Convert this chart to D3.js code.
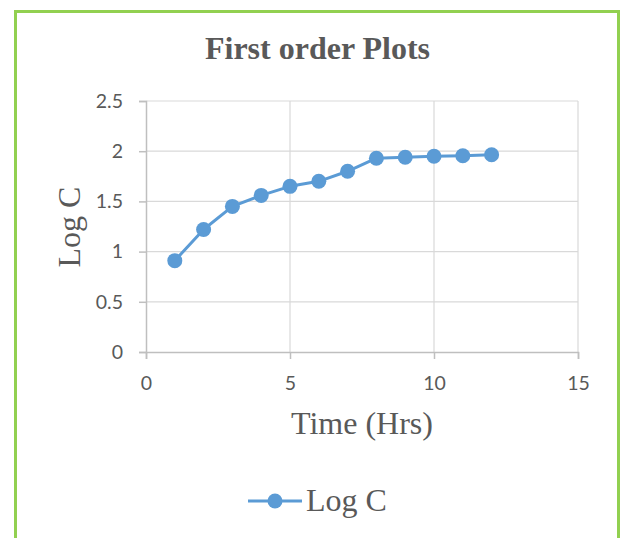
<!DOCTYPE html>
<html><head><meta charset="utf-8">
<script src="https://cdn.jsdelivr.net/npm/d3@7"></script>
<style>html,body{margin:0;padding:0;background:#fff;}</style>
</head><body>
<svg id="c" width="624" height="538"></svg>
<script>
const timeHrs = [1,2,3,4,5,6,7,8,9,10,11,12];
const logC = [0.91,1.22,1.45,1.56,1.65,1.70,1.80,1.93,1.94,1.95,1.955,1.965];
const xTicks = [0,5,10,15];
const yTicks = [0,0.5,1,1.5,2,2.5];
const title = "First order Plots";
const xTitle = "Time (Hrs)";
const yTitle = "Log C";
const seriesName = "Log C";

const svg = d3.select("#c");
const blue = "#5b9bd5";
const txt = "#595959";
const serif = "'Liberation Serif', 'Times New Roman', serif";

// frame
svg.append("rect").attr("x",15.5).attr("y",11.5).attr("width",603).attr("height",560)
  .attr("fill","none").attr("stroke","#92d050").attr("stroke-width",3);

const x = d3.scaleLinear().domain([0,15]).range([146,578]);
const y = d3.scaleLinear().domain([0,2.5]).range([352,101]);

// gridlines
svg.append("g").selectAll("line").data(yTicks.filter(d=>d>0)).join("line")
  .attr("x1",x(0)).attr("x2",x(15)).attr("y1",d=>y(d)).attr("y2",d=>y(d))
  .attr("stroke","#d9d9d9").attr("stroke-width",1.2);
svg.append("g").selectAll("line").data(xTicks.filter(d=>d>0)).join("line")
  .attr("y1",y(0)).attr("y2",y(2.5)).attr("x1",d=>x(d)).attr("x2",d=>x(d))
  .attr("stroke","#d9d9d9").attr("stroke-width",1.2);

// axes
const xAxis = svg.append("g").attr("transform",`translate(0,${y(0)})`)
  .call(d3.axisBottom(x).tickValues(xTicks).tickSize(7).tickPadding(17));
const yAxis = svg.append("g").attr("transform",`translate(${x(0)},0)`)
  .call(d3.axisLeft(y).tickValues(yTicks).tickSize(7).tickPadding(16).tickFormat(d3.format("")));
[xAxis,yAxis].forEach(a=>{
  a.select(".domain").attr("stroke","#bfbfbf").attr("stroke-width",1.5);
  a.selectAll(".tick line").attr("stroke","#bfbfbf").attr("stroke-width",1.5);
  a.selectAll(".tick text").attr("fill",txt).attr("font-family","Lato, 'Open Sans', sans-serif").attr("font-size",19.5);
});

// line
const line = d3.line().x((d,i)=>x(timeHrs[i])).y(d=>y(d));
svg.append("path").datum(logC).attr("d",line).attr("fill","none")
  .attr("stroke",blue).attr("stroke-width",3).attr("stroke-linejoin","round");
svg.append("g").selectAll("circle").data(logC).join("circle")
  .attr("cx",(d,i)=>x(timeHrs[i])).attr("cy",d=>y(d)).attr("r",7.5).attr("fill",blue);

// titles
svg.append("text").attr("x",317.5).attr("y",59).attr("text-anchor","middle")
  .attr("font-family",serif).attr("font-weight","bold")
  .attr("font-size",32).attr("fill",txt).text(title);
svg.append("text").attr("x",362).attr("y",434).attr("text-anchor","middle")
  .attr("font-family",serif).attr("font-size",32).attr("fill",txt).text(xTitle);
svg.append("text").attr("transform","translate(80,227) rotate(-90)").attr("text-anchor","middle")
  .attr("font-family",serif).attr("font-size",32).attr("fill",txt).text(yTitle);

// legend
svg.append("line").attr("x1",248).attr("x2",302).attr("y1",501).attr("y2",501)
  .attr("stroke",blue).attr("stroke-width",3);
svg.append("circle").attr("cx",275).attr("cy",501).attr("r",7.5).attr("fill",blue);
svg.append("text").attr("x",306).attr("y",511)
  .attr("font-family",serif).attr("font-size",32).attr("fill",txt).text(seriesName);
</script>
</body></html>
